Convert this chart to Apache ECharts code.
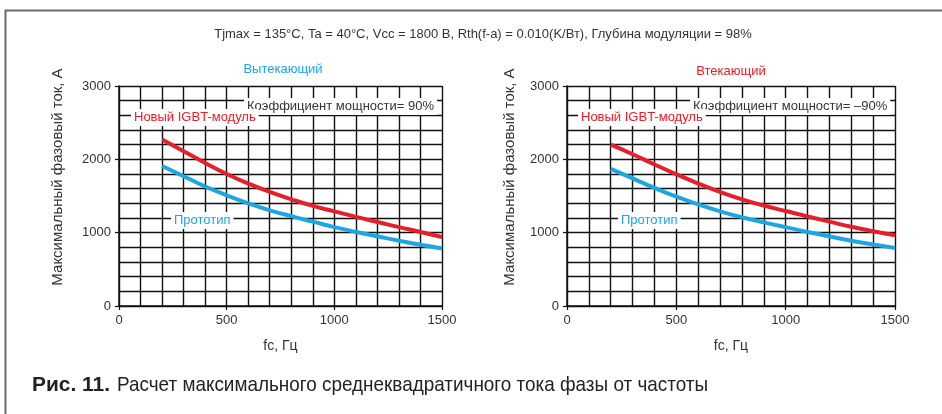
<!DOCTYPE html>
<html>
<head>
<meta charset="utf-8">
<script src="https://cdn.jsdelivr.net/npm/echarts@6/dist/echarts.min.js"></script>
<style>
  html, body { margin: 0; padding: 0; background: #fff; }
  #chart { width: 942px; height: 414px; }
</style>
</head>
<body>
<div id="chart"></div>
<script>
// частота, Гц
var freq = [200, 300, 400, 500, 600, 700, 800, 900, 1000, 1100, 1200, 1300, 1400, 1500];

// Вытекающий (cos = 90%)
var outNew   = [2270, 2110, 1950, 1800, 1670, 1555, 1455, 1365, 1290, 1215, 1145, 1075, 1010, 940];
var outProto = [1910, 1770, 1630, 1510, 1400, 1305, 1225, 1150, 1075, 1010, 950, 890, 835, 785];

// Втекающий (cos = -90%)
var inNew    = [2200, 2070, 1930, 1795, 1670, 1555, 1455, 1370, 1295, 1220, 1150, 1080, 1020, 965];
var inProto  = [1870, 1740, 1610, 1490, 1385, 1290, 1210, 1140, 1075, 1010, 950, 890, 840, 790];

var xTicks = [0, 500, 1000, 1500];
var yTicks = [0, 1000, 2000, 3000];

var RED = '#e3202b';
var BLUE = '#1ea6e0';
var FONT = '"Liberation Sans", Arial, sans-serif';
var FIG = 'Рис. 11.';
var CAPTION = 'Расчет максимального среднеквадратичного тока фазы от частоты';

function pairs(ys) {
  return freq.map(function (f, i) { return [f, ys[i]]; });
}

function plain(v) { return String(v); }

function xAxis(idx) {
  return {
    type: 'value', gridIndex: idx, min: xTicks[0], max: xTicks[xTicks.length - 1], interval: 500,
    axisLine: { lineStyle: { color: '#111', width: 1.5 } },
    axisTick: { length: 4, lineStyle: { color: '#111', width: 1.2 } },
    axisLabel: { color: '#333', fontSize: 13, fontFamily: FONT, margin: 8, formatter: plain },
    splitLine: { show: true, lineStyle: { color: '#111', width: 1.4 } },
    minorTick: { show: false, splitNumber: 5 },
    minorSplitLine: { show: true, lineStyle: { color: '#111', width: 1.4 } },
    name: 'fc, Гц', nameLocation: 'middle', nameGap: 33,
    nameTextStyle: { color: '#333', fontSize: 14, fontFamily: FONT }
  };
}

function yAxis(idx) {
  return {
    type: 'value', gridIndex: idx, min: yTicks[0], max: yTicks[yTicks.length - 1], interval: 1000,
    axisLine: { show: true, lineStyle: { color: '#111', width: 1.5 } },
    axisTick: { show: true, length: 4, lineStyle: { color: '#111', width: 1.2 } },
    axisLabel: { color: '#333', fontSize: 13, fontFamily: FONT, margin: 8, formatter: plain },
    splitLine: { show: true, lineStyle: { color: '#111', width: 1.4 } },
    minorTick: { show: false, splitNumber: 5 },
    minorSplitLine: { show: true, lineStyle: { color: '#111', width: 1.4 } }
  };
}

function line(idx, ys, color, name) {
  return {
    name: name, type: 'line', xAxisIndex: idx, yAxisIndex: idx,
    data: pairs(ys), smooth: true, symbol: 'none', z: 5,
    lineStyle: { color: color, width: 4 }
  };
}

function note(x, y, text, color) {
  return {
    type: 'text', left: x, top: y, z: 100,
    style: {
      text: text, fill: color, fontSize: 13, fontFamily: FONT,
      backgroundColor: '#fff', padding: [2, 3, 2, 3]
    }
  };
}

function yName(x, y) {
  return {
    type: 'text', x: x, y: y, rotation: Math.PI / 2, z: 100,
    style: {
      text: 'Максимальный фазовый ток, А', fill: '#333', fontSize: 15, fontFamily: FONT,
      align: 'center', verticalAlign: 'middle'
    }
  };
}

// подгонка ширины подписи (в оригинале другой шрифт)
var ctx = document.createElement('canvas').getContext('2d');
ctx.font = 'bold 21px "Liberation Sans"';
var figScale = 78 / ctx.measureText(FIG).width;
ctx.font = '21px "Liberation Sans"';
var capScale = 591 / ctx.measureText(CAPTION).width;

function capText(x, text, scale, weight) {
  return {
    type: 'text', x: x, y: 385, scaleX: scale, z: 100,
    style: {
      text: text, fill: '#222', fontSize: 21, fontWeight: weight, fontFamily: FONT,
      verticalAlign: 'middle'
    }
  };
}

var chart = echarts.init(document.getElementById('chart'), null, { renderer: 'canvas' });

chart.setOption({
  animation: false,
  backgroundColor: '#fff',
  title: [
    { text: 'Tjmax = 135°C, Ta = 40°C, Vcc = 1800 В, Rth(f-a) = 0.010(K/Вт), Глубина модуляции = 98%',
      left: 478, top: 23, textAlign: 'center',
      textStyle: { color: '#333', fontSize: 13, fontWeight: 'normal', fontFamily: FONT } },
    { text: 'Вытекающий', left: 278, top: 58, textAlign: 'center',
      textStyle: { color: BLUE, fontSize: 13, fontWeight: 'normal', fontFamily: FONT } },
    { text: 'Втекающий', left: 726, top: 60, textAlign: 'center',
      textStyle: { color: RED, fontSize: 13, fontWeight: 'normal', fontFamily: FONT } }
  ],
  grid: [
    { left: 119, top: 86, width: 323, height: 220 },
    { left: 567, top: 86, width: 328, height: 220 }
  ],
  xAxis: [xAxis(0), xAxis(1)],
  yAxis: [yAxis(0), yAxis(1)],
  series: [
    line(0, outNew, RED, 'Новый IGBT-модуль'),
    line(0, outProto, BLUE, 'Прототип'),
    line(1, inNew, RED, 'Новый IGBT-модуль'),
    line(1, inProto, BLUE, 'Прототип')
  ],
  graphic: [
    { type: 'polyline', z: 100, shape: { points: [[5.5, 414], [5.5, 10.5], [942, 10.5]] },
      style: { stroke: '#6b6b6b', lineWidth: 2, fill: null } },
    yName(58, 177),
    yName(510, 177),
    note(244, 98, 'Коэффициент мощности= 90%', '#333'),
    note(131, 109, 'Новый IGBT-модуль', RED),
    note(171, 212, 'Прототип', BLUE),
    note(690, 98, 'Коэффициент мощности= –90%', '#333'),
    note(578, 109, 'Новый IGBT-модуль', RED),
    note(618, 212, 'Прототип', BLUE),
    capText(32, FIG, figScale, 'bold'),
    capText(117, CAPTION, capScale, 'normal')
  ]
});
</script>
</body>
</html>
